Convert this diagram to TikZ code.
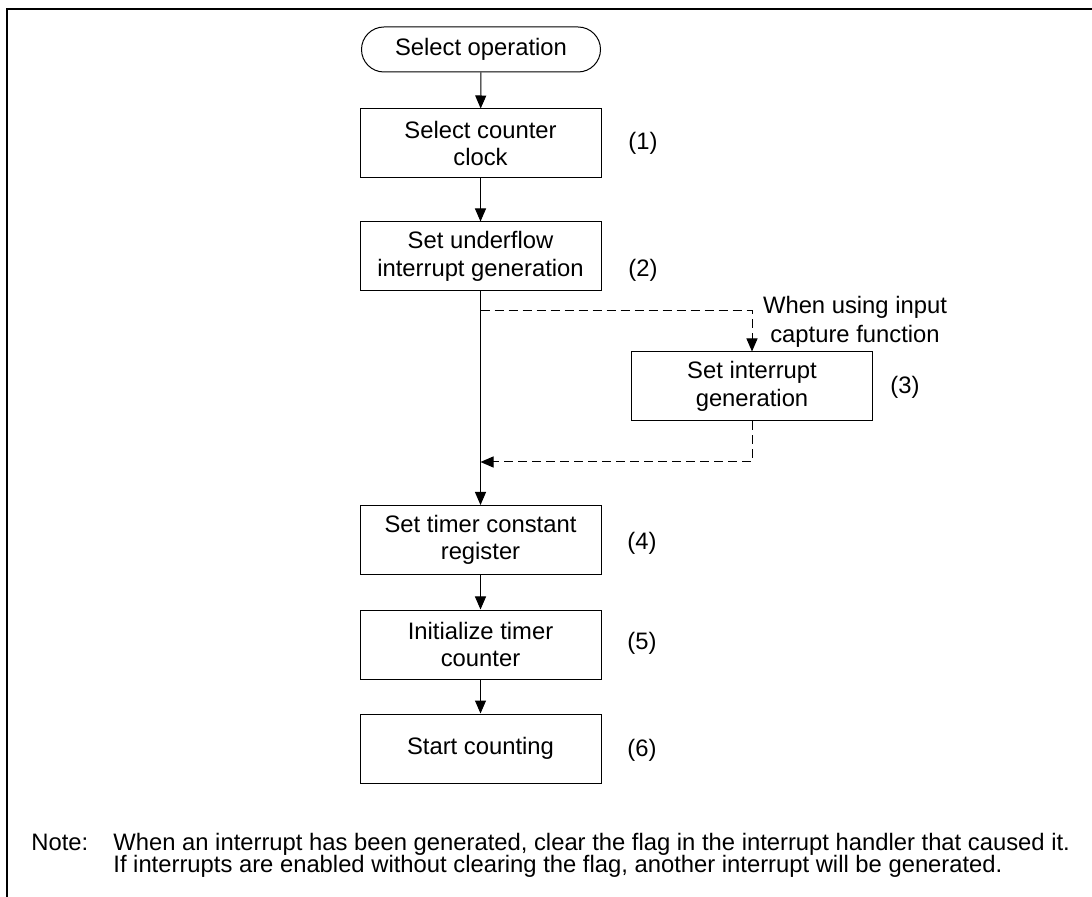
\documentclass[tikz,border=0pt]{standalone}
\usepackage{fontspec}
\setmainfont{Liberation Sans}
\usetikzlibrary{arrows.meta, positioning}

\begin{document}
\begin{tikzpicture}[
        x=0.5pt, y=-0.5pt,
        stepbox/.style={rectangle, draw, line width=0.5pt, minimum width=120.5pt, minimum height=34.5pt, inner sep=0pt, align=center, font=\fontsize{11.9}{13.8}\selectfont},
        terminal/.style={rectangle, rounded corners=11.25pt, draw, line width=0.5pt, minimum width=119.5pt, minimum height=22.5pt, inner sep=0pt, font=\fontsize{11.9}{13.8}\selectfont},
        tag/.style={inner sep=0pt, align=center, font=\fontsize{11.9}{14.5}\selectfont},
        notetext/.style={anchor=base west, inner sep=0pt, font=\fontsize{11.9}{11}\selectfont},
        arrow/.style={-{Triangle[length=6.5pt, width=5.5pt]}, line width=0.5pt},
        branch/.style={arrow, dash pattern=on 4.5pt off 2.5pt}
    ]
        \useasboundingbox (0,0) rectangle (1092,897);
        % frame
        \draw[line width=0.65pt] (1092,9) -- (7,9) -- (7,897);

        % main flow
        \node[terminal] (start) at (481,49.5) {Select operation};
        \node[stepbox] (clock) at (480.5,143.5) {Select counter\\clock};
        \node[stepbox] (underflow) at (480.5,256.5) {Set underflow\\interrupt generation};
        \node[stepbox] (capture) at (752,386.5) {Set interrupt\\generation};
        \node[stepbox] (constant) at (480.5,540) {Set timer constant\\register};
        \node[stepbox] (init) at (480.5,644.5) {Initialize timer\\counter};
        \node[stepbox] (count) at (480.5,748.5) {Start counting};

        % step numbers
        \node[tag] (n1) at (643,143) {(1)};
        \node[tag] (n2) at (643,270) {(2)};
        \node[tag] (n3) at (905,387) {(3)};
        \node[tag] (n4) at (642,543) {(4)};
        \node[tag] (n5) at (642,643) {(5)};
        \node[tag] (n6) at (642,750) {(6)};
        \node[tag] (cond) at (855,322) {When using input\\capture function};

        \coordinate (split) at (480.5,311);
        \coordinate (merge) at (480.5,462);

        \draw[arrow] (start) -- (clock);
        \draw[arrow] (clock) -- (underflow);
        \draw[arrow] (underflow) -- (constant);
        \draw[branch] (split) -| (capture.north);
        \draw[branch] (capture.south) |- (merge);
        \draw[arrow] (constant) -- (init);
        \draw[arrow] (init) -- (count);

        % note
        \node[notetext] (notehead) at (31,850) {Note:};
        \node[notetext] (note1) at (113,850) {When an interrupt has been generated, clear the flag in the interrupt handler that caused it.};
        \node[notetext] (note2) at (113,872) {If interrupts are enabled without clearing the flag, another interrupt will be generated.};
    \end{tikzpicture}
\end{document}
